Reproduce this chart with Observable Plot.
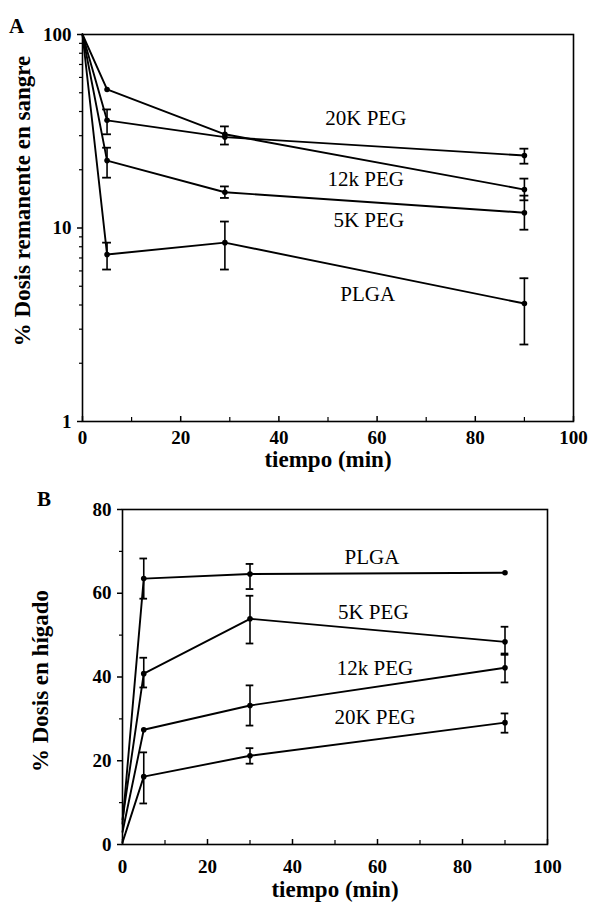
<!DOCTYPE html>
<html>
<head>
<meta charset="utf-8">
<script src="https://cdn.jsdelivr.net/npm/d3@7"></script>
<script src="https://cdn.jsdelivr.net/npm/@observablehq/plot@0.6"></script>
<style>
  html, body { margin: 0; padding: 0; background: #fff; }
  #wrap { position: relative; width: 589px; height: 907px; background: #fff; }
  #wrap svg { position: absolute; left: 0; display: block; background: transparent; }
  .panel { position: absolute; z-index: 5; font-family: "Liberation Serif", serif; font-weight: bold; font-size: 21px; line-height: 1; }
</style>
</head>
<body>
<div id="wrap">
  <div class="panel" style="left:9px;top:16px;">A</div>
  <div class="panel" style="left:37px;top:489px;">B</div>
</div>
<script>
// ---------- Panel A: % Dosis remanente en sangre (log) ----------
const seriesA = ["20K PEG", "12k PEG", "5K PEG", "PLGA"];
const timeA = [0, 5, 29, 90];
const valuesA = {
  "20K PEG": [100, 36, 29.5, 23.7],
  "12k PEG": [100, 52, 30.5, 15.8],
  "5K PEG":  [100, 22.3, 15.3, 12.0],
  "PLGA":    [100, 7.3, 8.4, 4.07]
};
const errLowA = {
  "20K PEG": [null, 30.5, 27, 21.5],
  "12k PEG": [null, null, null, 13.9],
  "5K PEG":  [null, 18.2, 14.3, 9.8],
  "PLGA":    [null, 6.1, 6.1, 2.5]
};
const errHighA = {
  "20K PEG": [null, 41, 33.5, 25.7],
  "12k PEG": [null, null, null, 18],
  "5K PEG":  [null, 26, 16.4, 14.7],
  "PLGA":    [null, 8.4, 10.8, 5.5]
};
const labelPosA = {
  "20K PEG": [57.7, 36.8],
  "12k PEG": [57.7, 17.8],
  "5K PEG":  [58.3, 10.9],
  "PLGA":    [58.1, 4.53]
};
const yTicksA = [1, 10, 100];
const yMinorA = [2,3,4,5,6,7,8,9,20,30,40,50,60,70,80,90];

// ---------- Panel B: % Dosis en hígado ----------
const seriesB = ["PLGA", "5K PEG", "12k PEG", "20K PEG"];
const timeB = [0, 5, 30, 90];
const valuesB = {
  "PLGA":    [5, 63.5, 64.6, 64.9],
  "5K PEG":  [6, 40.8, 53.9, 48.4],
  "12k PEG": [3, 27.4, 33.2, 42.2],
  "20K PEG": [0.5, 16.2, 21.2, 29.1]
};
const errLowB = {
  "PLGA":    [null, 58.7, 61, null],
  "5K PEG":  [null, 37.5, 48, 45.6],
  "12k PEG": [null, null, 28.4, 38.7],
  "20K PEG": [null, 9.8, 19.3, 26.7]
};
const errHighB = {
  "PLGA":    [null, 68.3, 67, null],
  "5K PEG":  [null, 44.6, 59.4, 52],
  "12k PEG": [null, null, 38, 45.3],
  "20K PEG": [null, 22, 23, 31.3]
};
const labelPosB = {
  "PLGA":    [58.7, 68.7],
  "5K PEG":  [59.0, 55.4],
  "12k PEG": [59.4, 42.2],
  "20K PEG": [59.4, 30.3]
};
const xTicks = [0, 20, 40, 60, 80, 100];
const xMinor = [10, 30, 50, 70, 90];
const yTicksB = [0, 20, 40, 60, 80];
const yMinorB = [10, 30, 50, 70];

function rows(series, time, values, lo, hi) {
  const out = [];
  for (const s of series) time.forEach((t, i) => out.push({series: s, x: t, y: values[s][i], lo: lo[s][i], hi: hi[s][i]}));
  return out;
}
const dataA = rows(seriesA, timeA, valuesA, errLowA, errHighA);
const dataB = rows(seriesB, timeB, valuesB, errLowB, errHighB);
const errA = dataA.filter(d => d.lo != null);
const errB = dataB.filter(d => d.lo != null);
const labelsA = seriesA.map(s => ({text: s, x: labelPosA[s][0], y: labelPosA[s][1]}));
const labelsB = seriesB.map(s => ({text: s, x: labelPosB[s][0], y: labelPosB[s][1]}));

const font = "Liberation Serif";
const capW = 0.9;

function panel(opts) {
  const {data, err, labels, yType, yDomain, yTicks, yMinor, yLabel, ml, mr, mt, mb, h, yLabelDx, yLabelDy, xPad, xTitleDy} = opts;
  return Plot.plot({
    width: 589, height: h,
    marginLeft: ml, marginRight: mr, marginTop: mt, marginBottom: mb,
    style: {fontFamily: font, fontSize: "19px", fontWeight: "bold", background: "transparent", color: "black", overflow: "visible"},
    x: {domain: [0, 100]},
    y: {type: yType, domain: yDomain},
    marks: [
      Plot.frame({stroke: "black", strokeWidth: 1.6}),
      Plot.axisX({ticks: xTicks, tickSize: -5, tickPadding: xPad, fontSize: 19, fontWeight: "bold", label: null, strokeWidth: 1.5}),
      Plot.axisX({ticks: xMinor, tickSize: -4, tickFormat: () => "", label: null, strokeWidth: 1.2}),
      Plot.axisY({ticks: yTicks, tickSize: 5, tickPadding: 6, fontSize: 19, fontWeight: "bold", label: null, tickFormat: d => String(d), strokeWidth: 1.5}),
      Plot.axisY({ticks: yMinor, tickSize: 3, tickFormat: () => "", label: null, strokeWidth: 1.2}),
      Plot.text(["tiempo (min)"], {frameAnchor: "bottom", dy: xTitleDy, fontSize: 23, fontWeight: "bold", fontFamily: font}),
      Plot.text([yLabel], {frameAnchor: "left", textAnchor: "middle", dx: yLabelDx, dy: yLabelDy, rotate: -90, fontSize: 23, fontWeight: "bold", fontFamily: font}),
      Plot.ruleX(err, {x: "x", y1: "lo", y2: "hi", stroke: "black", strokeWidth: 1.6}),
      Plot.ruleY(err, {y: "lo", x1: d => d.x - capW, x2: d => d.x + capW, stroke: "black", strokeWidth: 1.8}),
      Plot.ruleY(err, {y: "hi", x1: d => d.x - capW, x2: d => d.x + capW, stroke: "black", strokeWidth: 1.8}),
      Plot.line(data, {x: "x", y: "y", z: "series", stroke: "black", strokeWidth: 1.9}),
      Plot.dot(data.filter(d => d.x > 0), {x: "x", y: "y", r: 2.8, fill: "black"}),
      Plot.text(labels, {x: "x", y: "y", text: "text", fontSize: 21, fontWeight: "normal", fontFamily: font})
    ]
  });
}

const wrap = document.getElementById("wrap");
const svgB = panel({
  data: dataB, err: errB, labels: labelsB, yType: "linear", yDomain: [0, 80],
  yTicks: yTicksB, yMinor: yMinorB, yLabel: "% Dosis en hígado",
  ml: 122, mr: 42, mt: 49, mb: 63, h: 447, yLabelDx: -82, yLabelDy: 4,
  xPad: 20, xTitleDy: 52
});
svgB.style.top = "460px";
wrap.appendChild(svgB);

const svgA = panel({
  data: dataA, err: errA, labels: labelsA, yType: "log", yDomain: [1, 100],
  yTicks: yTicksA, yMinor: yMinorA, yLabel: "% Dosis remanente en sangre",
  ml: 82, mr: 16, mt: 34, mb: 39, h: 460, yLabelDx: -60, yLabelDy: -27,
  xPad: 14, xTitleDy: 45
});
svgA.style.top = "0px";
wrap.appendChild(svgA);
</script>
</body>
</html>
